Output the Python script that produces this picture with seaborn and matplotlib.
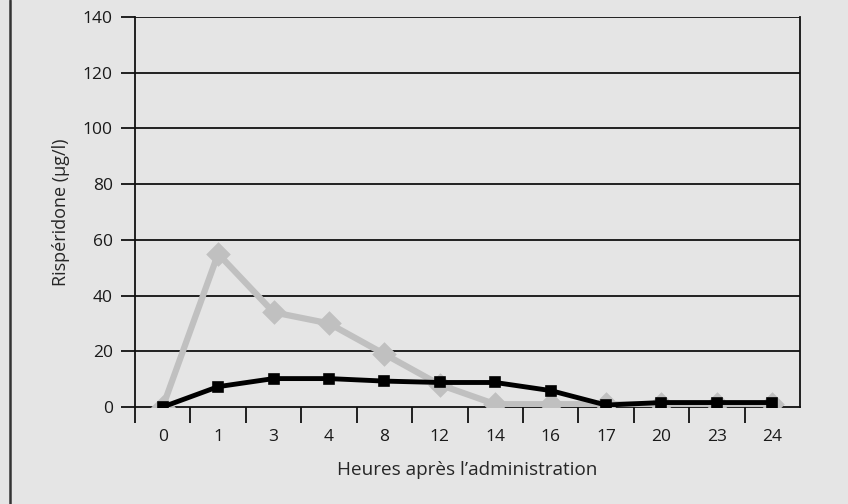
import numpy as np
import pandas as pd
import matplotlib
matplotlib.use('Agg')
import matplotlib.pyplot as plt
from matplotlib.lines import Line2D
from matplotlib.ticker import FixedLocator
import seaborn as sns

hours = ['0', '1', '3', '4', '8', '12', '14', '16', '17', '20', '23', '24']
gray_series = [0, 55, 34, 30, 19, 8, 1, 1, 1, 1, 1, 1]
black_series = [0, 7.3, 10.2, 10.2, 9.3, 8.8, 8.8, 5.9, 0.7, 1.6, 1.6, 1.6]
y_ticks = [0, 20, 40, 60, 80, 100, 120, 140]

bg = '#e5e5e5'
sns.set_style('ticks')
plt.rcParams['font.family'] = ['Open Sans', 'DejaVu Sans']
plt.rcParams['font.size'] = 12.5
plt.rcParams['text.color'] = '#1a1a1a'
plt.rcParams['xtick.labelcolor'] = '#1a1a1a'
plt.rcParams['ytick.labelcolor'] = '#1a1a1a'

df = pd.DataFrame({'heure': hours, 'gris': gray_series, 'noir': black_series})

fig = plt.figure(figsize=(8.48, 5.04), dpi=100, facecolor=bg)
ax = fig.add_axes([135 / 848, 1 - 407 / 504, 665 / 848, 390 / 504])
ax.set_facecolor(bg)

# gridlines first, underneath the series
for v in y_ticks[1:]:
    ax.axhline(v, color='#111111', lw=1.3, zorder=1)

sns.pointplot(data=df, x='heure', y='gris', order=hours, color='#c0c0c0',
              markers='D', linewidth=4.5, markersize=9.5, ax=ax, zorder=3)
sns.pointplot(data=df, x='heure', y='noir', order=hours, color='black',
              markers='s', linewidth=3.5, markersize=6, ax=ax, zorder=4)

ax.set_xlim(-0.5, 11.5)
ax.set_ylim(0, 140)
ax.set_yticks(y_ticks)
ax.tick_params(axis='y', length=10, width=1.3, direction='out', pad=6, color='#111111')
ax.tick_params(axis='x', which='major', length=0, pad=15.5)
ax.xaxis.set_minor_locator(FixedLocator(np.arange(-0.5, 11, 1.0)))
ax.tick_params(axis='x', which='minor', length=11.5, width=1.3, direction='out', color='#111111')

for side in ['left', 'bottom', 'right']:
    ax.spines[side].set_color('#111111')
    ax.spines[side].set_linewidth(1.3)
ax.spines['top'].set_visible(False)

ax.set_xlabel('Heures après l’administration', fontsize=13.6, labelpad=12)
ax.set_ylabel('Rispéridone (µg/l)', fontsize=13, labelpad=9)

fig.add_artist(Line2D([10 / 848, 10 / 848], [0, 1], color='#333333', lw=1.8,
                      transform=fig.transFigure))

fig.savefig('out.png', dpi=100, facecolor=bg)
